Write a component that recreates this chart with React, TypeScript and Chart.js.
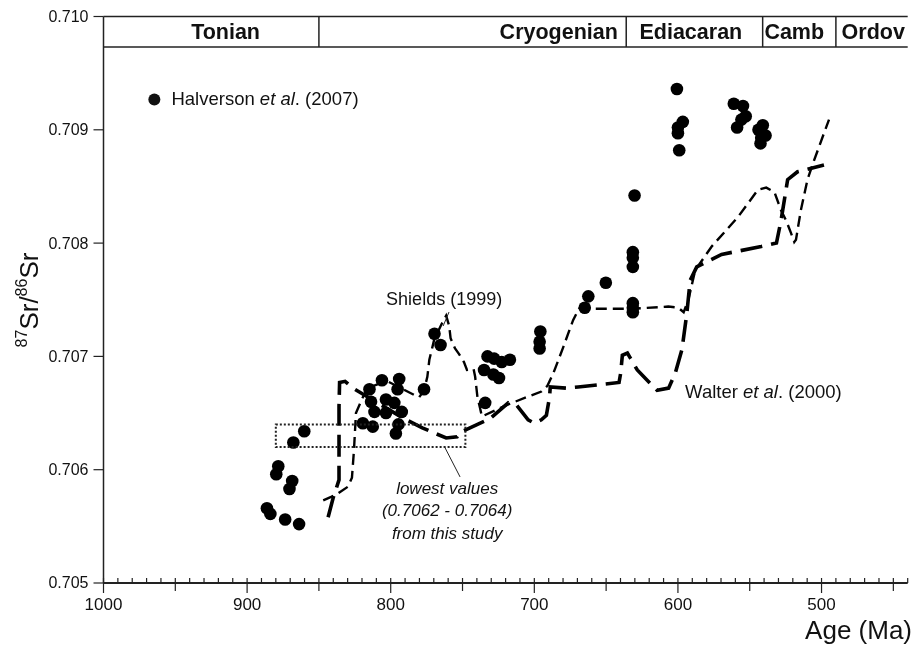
import React, { useEffect, useRef } from "react";
import { Chart, registerables } from "chart.js";

Chart.register(...registerables);

// ---- axes ----
const xMinAge = 440;
const xMaxAge = 1000;
const yMin = 0.705;
const yMax = 0.71;
const yTickValues = [0.705, 0.706, 0.707, 0.708, 0.709, 0.71];
const yTickLabels = ["0.705", "0.706", "0.707", "0.708", "0.709", "0.710"];
const xTickValues = [1000, 900, 800, 700, 600, 500];
const xTickLabels = ["1000", "900", "800", "700", "600", "500"];

// ---- geological periods ----
const periodNames = ["Tonian", "Cryogenian", "Ediacaran", "Camb", "Ordov"];
const periodBoundaries = [850, 636, 541, 490];
const periodLabelAges = [915, 683, 591, 519, 464];
const periodBandBase = 0.70973;

// ---- Halverson et al. (2007) ----
const halversonAge = [
  860.2, 867.8, 878.3, 879.7, 868.6, 870.5, 886.2, 883.8, 873.5, 863.8,
  814.8, 806.1, 794.1, 795.2, 813.7, 803.3, 797.5, 811.3, 792.3, 803.3,
  819.4, 812.5, 794.6, 796.4, 776.8, 769.5, 765.3,
  734.2, 735.0, 728.5, 724.6, 732.6, 728.0, 722.7, 717.0, 695.8, 696.3, 696.3,
  664.9, 662.4, 650.2, 631.4, 631.4, 631.4, 631.4, 631.4, 631.4, 630.2,
  600.7, 596.6, 600.0, 600.0, 599.1,
  561.1, 554.7, 552.8, 555.8, 558.8, 540.9, 543.9, 539.0, 542.0, 542.5,
];
const halversonSr = [
  0.70634, 0.70624, 0.70603, 0.70596, 0.7059, 0.70583, 0.70566, 0.70561, 0.70556, 0.70552,
  0.70671, 0.70679, 0.7068, 0.70671, 0.7066, 0.70662, 0.70659, 0.70651, 0.70651, 0.7065,
  0.70641, 0.70638, 0.7064, 0.70632, 0.70671, 0.7072, 0.7071,
  0.70659, 0.70688, 0.70684, 0.70681, 0.707, 0.70698, 0.70695, 0.70697, 0.70722, 0.70713, 0.70707,
  0.70743, 0.70753, 0.70765, 0.70792, 0.70787, 0.70779, 0.70747, 0.70743, 0.70739, 0.70842,
  0.70936, 0.70907, 0.70902, 0.70897, 0.70882,
  0.70923, 0.70921, 0.70912, 0.70909, 0.70902, 0.70904, 0.709, 0.70895, 0.70893, 0.70888,
];

// ---- Shields (1999) ----
const shieldsAge = [
  847.0, 841.5, 836.7, 829.8, 827.0, 825.6, 824.2, 819.4, 816.0, 807.9, 802.1,
  783.7, 780.2, 776.8, 774.5, 773.1, 769.7, 764.8, 761.4, 759.3, 758.3, 755.2,
  752.4, 749.0, 746.9, 742.3, 741.2, 739.6, 737.9, 736.5, 719.3, 705.5, 695.1,
  690.9, 686.8, 679.9, 673.0, 668.9, 664.0, 631.6, 606.7, 599.8, 596.0, 592.7,
  588.0, 576.5, 558.2, 544.3, 538.5, 532.8, 528.2, 524.7, 521.3, 519.0, 517.8,
  514.4, 509.8, 505.2, 498.3, 494.8,
];
const shieldsSr = [
  0.70573, 0.70576, 0.70579, 0.70585, 0.70593, 0.70617, 0.7065, 0.70664, 0.70672, 0.70676, 0.70678,
  0.70666, 0.70664, 0.7067, 0.70682, 0.70697, 0.70715, 0.70728, 0.70736, 0.70727, 0.70716, 0.70707,
  0.70702, 0.70695, 0.70688, 0.70689, 0.70682, 0.70664, 0.70655, 0.70647, 0.70657, 0.70664, 0.70669,
  0.70674, 0.70685, 0.70708, 0.70732, 0.70742, 0.70742, 0.70742, 0.70744, 0.70743, 0.70739, 0.7075,
  0.70776, 0.70797, 0.70823, 0.70847, 0.70849, 0.70845, 0.70829, 0.7082, 0.70809, 0.70801, 0.70803,
  0.70829, 0.70856, 0.70873, 0.70897, 0.70909,
];

// ---- Walter et al. (2000) ----
const walterAge = [
  843.6, 840.1, 836.0, 836.0, 835.6, 831.8, 826.3, 790.6, 778.0, 769.0, 761.4,
  753.8, 751.7, 744.8, 731.0, 718.1, 712.4, 704.3, 699.9, 695.1, 691.6, 689.4,
  688.9, 677.8, 669.5, 641.0, 639.9, 638.7, 635.2, 632.9, 628.3, 614.5, 606.5,
  601.9, 597.2, 593.8, 591.5, 586.9, 569.6, 542.0, 531.4, 528.2, 523.6, 516.7, 498.3,
];
const walterSr = [
  0.70558, 0.70575, 0.70591, 0.70656, 0.70677, 0.70678, 0.70672, 0.70645, 0.70637, 0.70632, 0.70628,
  0.70629, 0.70633, 0.70637, 0.70645, 0.70659, 0.70657, 0.70644, 0.70641, 0.70644, 0.70648, 0.70664,
  0.70673, 0.70672, 0.70673, 0.70677, 0.70685, 0.70701, 0.70703, 0.70698, 0.70688, 0.7067, 0.70672,
  0.70685, 0.70706, 0.70738, 0.70767, 0.70779, 0.7079, 0.70797, 0.708, 0.7082, 0.70856, 0.70863, 0.70869,
];

// ---- "lowest values" box ----
const lowestBoxAge = [880, 748];
const lowestBoxSr = [0.7062, 0.7064];

const FONT = '"Liberation Sans", Arial, sans-serif';
const INK = "#111";

type Part = [string, boolean];

function drawRich(ctx: CanvasRenderingContext2D, parts: Part[], x: number, y: number, size: number, align: "left" | "center") {
  const fonts = parts.map(([, it]) => `${it ? "italic " : ""}${size}px ${FONT}`);
  const widths = parts.map(([t], i) => {
    ctx.font = fonts[i];
    return ctx.measureText(t).width;
  });
  const total = widths.reduce((a, b) => a + b, 0);
  let cx = align === "center" ? x - total / 2 : x;
  ctx.textAlign = "left";
  ctx.textBaseline = "middle";
  parts.forEach(([t], i) => {
    ctx.font = fonts[i];
    ctx.fillText(t, cx, y);
    cx += widths[i];
  });
}

const overlay = {
  id: "overlay",
  afterDraw(chart: any) {
    const { ctx, chartArea: a, scales } = chart;
    const xs = scales.x;
    const ys = scales.y;
    const X = (v: number) => xs.getPixelForValue(v);
    const Y = (v: number) => ys.getPixelForValue(v);
    const line = (x1: number, y1: number, x2: number, y2: number) => {
      ctx.beginPath();
      ctx.moveTo(x1, y1);
      ctx.lineTo(x2, y2);
      ctx.stroke();
    };
    ctx.save();
    ctx.strokeStyle = "#222";
    ctx.fillStyle = INK;
    ctx.setLineDash([]);

    // frame
    ctx.lineWidth = 1.5;
    line(a.left, a.top, a.left, a.bottom);
    line(a.left, a.top, a.right, a.top);
    const yb = Y(periodBandBase);
    line(a.left, yb, a.right, yb);
    periodBoundaries.forEach((b) => line(X(b), a.top, X(b), yb));
    ctx.lineWidth = 2;
    line(a.left, a.bottom, a.right, a.bottom);

    // period labels
    ctx.font = `bold 21.5px ${FONT}`;
    ctx.textAlign = "center";
    ctx.textBaseline = "middle";
    const bandMid = (a.top + yb) / 2 + 1;
    periodNames.forEach((n, i) => ctx.fillText(n, X(periodLabelAges[i]), bandMid));

    // y ticks
    ctx.lineWidth = 1.2;
    ctx.font = `16px ${FONT}`;
    ctx.textAlign = "right";
    yTickValues.forEach((v, i) => {
      const py = Y(v);
      line(a.left - 10, py, a.left, py);
      ctx.fillText(yTickLabels[i], a.left - 15, py + 1);
    });

    // x ticks
    ctx.lineWidth = 1.2;
    for (let age = xMaxAge; age >= xMinAge; age -= 10) {
      const px = X(age);
      if (age % 100 === 0) line(px, a.bottom - 5, px, a.bottom + 10);
      else if (age % 50 === 0) line(px, a.bottom - 5, px, a.bottom + 8);
      else line(px, a.bottom - 5, px, a.bottom);
    }
    ctx.font = `17px ${FONT}`;
    ctx.textAlign = "center";
    xTickValues.forEach((v, i) => ctx.fillText(xTickLabels[i], X(v), a.bottom + 22));

    // axis titles
    ctx.font = `26px ${FONT}`;
    ctx.textAlign = "right";
    ctx.fillText("Age (Ma)", 912, 632);

    ctx.save();
    ctx.translate(31, 300);
    ctx.rotate(-Math.PI / 2);
    const big = 26;
    const small = 16;
    const segs: [string, number, number][] = [
      ["87", small, -8],
      ["Sr/", big, 0],
      ["86", small, -8],
      ["Sr", big, 0],
    ];
    const ws = segs.map(([t, s]) => {
      ctx.font = `${s}px ${FONT}`;
      return ctx.measureText(t).width;
    });
    let sx = -ws.reduce((p, c) => p + c, 0) / 2;
    ctx.textAlign = "left";
    segs.forEach(([t, s, dy], i) => {
      ctx.font = `${s}px ${FONT}`;
      ctx.fillText(t, sx, dy);
      sx += ws[i];
    });
    ctx.restore();

    // lowest values box
    ctx.lineWidth = 2;
    ctx.setLineDash([2, 2]);
    const bx1 = X(lowestBoxAge[0]);
    const bx2 = X(lowestBoxAge[1]);
    const by1 = Y(lowestBoxSr[1]);
    const by2 = Y(lowestBoxSr[0]);
    ctx.strokeRect(bx1, by1, bx2 - bx1, by2 - by1);
    ctx.setLineDash([]);

    // leaders
    ctx.lineWidth = 1;
    line(X(762.8), Y(0.706209), X(751.7), Y(0.705936));
    line(X(759.4), Y(0.707392), X(763.5), Y(0.707268));

    // annotations
    ctx.fillStyle = INK;
    drawRich(ctx, [["Shields (1999)", false]], X(762.8), Y(0.707498), 18, "center");
    drawRich(ctx, [["Walter ", false], ["et al", true], [". (2000)", false]], X(595), Y(0.706677), 18.5, "left");
    drawRich(ctx, [["lowest values", true]], X(760.7), Y(0.70583), 17, "center");
    drawRich(ctx, [["(0.7062 - 0.7064)", true]], X(760.7), Y(0.705635), 17, "center");
    drawRich(ctx, [["from this study", true]], X(760.7), Y(0.705432), 17, "center");

    // legend
    ctx.beginPath();
    ctx.arc(X(964.6), Y(0.709267), 6, 0, Math.PI * 2);
    ctx.fill();
    drawRich(ctx, [["Halverson ", false], ["et al", true], [". (2007)", false]], X(952.7), Y(0.709267), 18.5, "left");

    ctx.restore();
  },
};

export default function App() {
  const ref = useRef<HTMLCanvasElement | null>(null);

  useEffect(() => {
    document.body.style.margin = "0";
    const canvas = ref.current;
    if (!canvas) return;
    const toXY = (xs: number[], ys: number[]) => xs.map((x, i) => ({ x, y: ys[i] }));
    const chart = new Chart(canvas, {
      type: "scatter",
      data: {
        datasets: [
          {
            label: "Walter et al. (2000)",
            data: toXY(walterAge, walterSr),
            showLine: true,
            pointRadius: 0,
            borderColor: "#000",
            borderWidth: 3.6,
            borderDash: [22, 9],
            fill: false,
            tension: 0,
          },
          {
            label: "Shields (1999)",
            data: toXY(shieldsAge, shieldsSr),
            showLine: true,
            pointRadius: 0,
            borderColor: "#000",
            borderWidth: 2.4,
            borderDash: [11, 6],
            fill: false,
            tension: 0,
          },
          {
            label: "Halverson et al. (2007)",
            data: toXY(halversonAge, halversonSr),
            showLine: false,
            pointRadius: 6.3,
            pointBackgroundColor: "#000",
            pointBorderWidth: 0,
            backgroundColor: "#000",
            borderColor: "#000",
          },
        ],
      },
      options: {
        animation: false,
        responsive: false,
        devicePixelRatio: 1,
        layout: { padding: { left: 103.5, top: 16.5, right: 0, bottom: 62 } },
        scales: {
          x: { type: "linear", display: false, reverse: true, min: xMinAge, max: xMaxAge },
          y: { type: "linear", display: false, min: yMin, max: yMax },
        },
        plugins: {
          legend: { display: false },
          tooltip: { enabled: false },
        },
      },
      plugins: [overlay],
    });
    return () => chart.destroy();
  }, []);

  return <canvas ref={ref} width={914} height={645} style={{ display: "block" }} />;
}
